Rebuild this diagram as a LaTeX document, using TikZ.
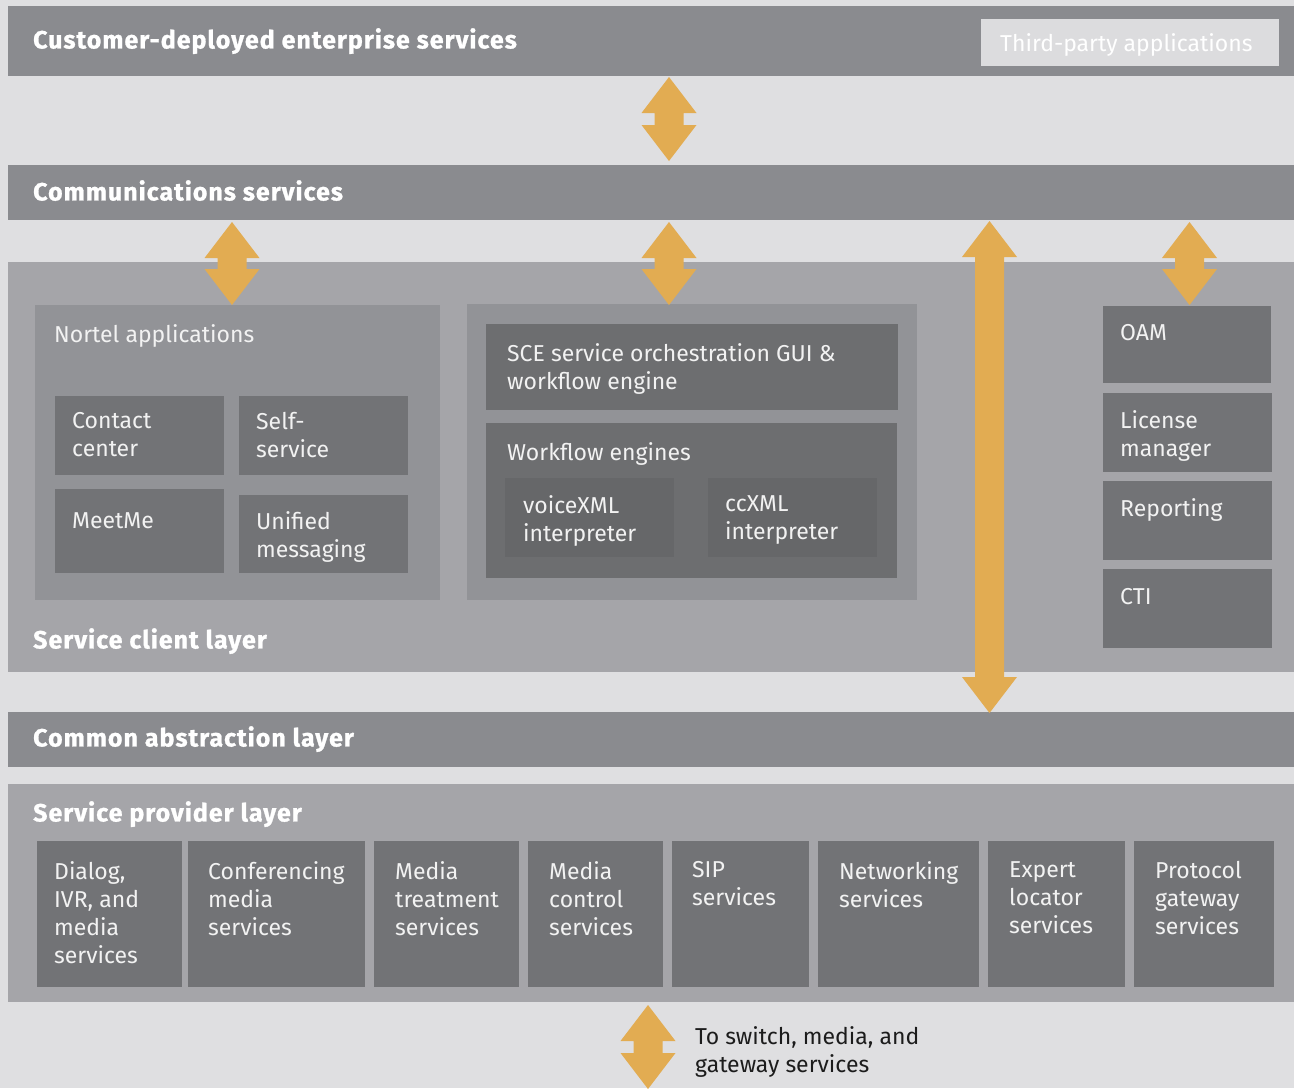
\documentclass[tikz,border=0pt]{standalone}
\usepackage{fontspec}
\setmainfont{Fira Sans}
\newfontfamily\headfont[LetterSpace=4,FakeBold=1]{Fira Sans Bold}
\usetikzlibrary{calc}
\definecolor{bgc}{HTML}{DFDFE1}
\definecolor{barc}{HTML}{8A8B8F}
\definecolor{layerc}{HTML}{A5A5A9}
\definecolor{groupc}{HTML}{929397}
\definecolor{tilec}{HTML}{727376}
\definecolor{engc}{HTML}{6D6E70}
\definecolor{innerc}{HTML}{666769}
\definecolor{thirdc}{HTML}{DCDCDE}
\definecolor{arrowc}{HTML}{E2AC52}
\definecolor{inkc}{HTML}{1C1C1C}
\begin{document}
\begin{tikzpicture}[x=1pt,y=-1pt]
\tikzstyle{area}=[anchor=north west,inner sep=0,outer sep=0];
\tikzstyle{bar}=[area,fill=barc];
\tikzstyle{layer}=[area,fill=layerc];
\tikzstyle{group}=[area,fill=groupc];
\tikzstyle{tile}=[area,fill=tilec];
\tikzstyle{eng}=[area,fill=engc];
\tikzstyle{inner}=[area,fill=innerc];
\tikzstyle{txt}=[anchor=north west,inner sep=0,align=left,text=white!95!black,
  font=\fontsize{23}{28}\selectfont,execute at begin node={\rule{0pt}{17pt}}];
\tikzstyle{head}=[txt,text=white,font=\fontsize{25}{28}\selectfont\headfont];
\tikzstyle{flow}=[fill=arrowc,to path={-- ($(\tikztostart)+(27.5,36)$) -- ($(\tikztostart)+(14.5,36)$)
  -- ($(\tikztotarget)+(14.5,-36)$) -- ($(\tikztotarget)+(27.5,-36)$) -- (\tikztotarget)
  -- ($(\tikztotarget)+(-27.5,-36)$) -- ($(\tikztotarget)+(-14.5,-36)$)
  -- ($(\tikztostart)+(-14.5,36)$) -- ($(\tikztostart)+(-27.5,36)$) -- cycle}];

\useasboundingbox[fill=bgc] (0,0) rectangle (1294,1088);

% top layers
\node [bar,minimum width=1286,minimum height=70] (cust) at (8,6) {};
\node [head] (custT) at (33,28) {Customer-deployed enterprise services};
\node [area,fill=thirdc,minimum width=298,minimum height=47] (third) at (981,19) {};
\node [txt,text=white] (thirdT) at (1000,33) {Third-party applications};

\node [bar,minimum width=1286,minimum height=55] (comm) at (8,165) {};
\node [head] (commT) at (33,180) {Communications services};

% service client layer
\node [layer,minimum width=1286,minimum height=410] (client) at (8,262) {};
\node [head] (clientT) at (33,628) {Service client layer};

\node [group,minimum width=405,minimum height=295] (nortel) at (35,305) {};
\node [txt] (nortelT) at (54,324) {Nortel applications};
\node [tile,minimum width=169,minimum height=79] (cc) at (55,396) {};
\node [txt] (ccT) at (72,412) {Contact\\center};
\node [tile,minimum width=169,minimum height=79] (ss) at (239,396) {};
\node [txt] (ssT) at (256,412) {Self-\\service};
\node [tile,minimum width=169,minimum height=84] (mm) at (55,489) {};
\node [txt] (mmT) at (72,511) {MeetMe};
\node [tile,minimum width=169,minimum height=78] (um) at (239,495) {};
\node [txt] (umT) at (256,511) {Unified\\messaging};

\node [group,minimum width=450,minimum height=296] (mid) at (467,304) {};
\node [eng,minimum width=412,minimum height=86] (sce) at (486,324) {};
\node [txt] (sceT) at (507,343) {SCE service orchestration GUI \&\\workflow engine};
\node [eng,minimum width=411,minimum height=155] (wf) at (486,423) {};
\node [txt] (wfT) at (507,442) {Workflow engines};
\node [inner,minimum width=169,minimum height=79] (vx) at (505,478) {};
\node [txt] (vxT) at (523,495) {voiceXML\\interpreter};
\node [inner,minimum width=169,minimum height=79] (cx) at (708,478) {};
\node [txt] (cxT) at (725,495) {ccXML\\interpreter};

\node [tile,minimum width=168,minimum height=77] (oam) at (1103,306) {};
\node [txt] (oamT) at (1120,323) {OAM};
\node [tile,minimum width=169,minimum height=79] (lic) at (1103,393) {};
\node [txt] (licT) at (1120,410) {License\\manager};
\node [tile,minimum width=169,minimum height=79] (rep) at (1103,481) {};
\node [txt] (repT) at (1120,498) {Reporting};
\node [tile,minimum width=169,minimum height=79] (cti) at (1103,569) {};
\node [txt] (ctiT) at (1120,587) {CTI};

% lower layers
\node [bar,minimum width=1286,minimum height=55] (common) at (8,712) {};
\node [head] (commonT) at (33,726) {Common abstraction layer};

\node [layer,minimum width=1286,minimum height=218] (provider) at (8,784) {};
\node [head] (providerT) at (33,801) {Service provider layer};

\node [tile,minimum width=145,minimum height=146] (dlg) at (37,841) {};
\node [txt] (dlgT) at (54,861) {Dialog,\\IVR, and\\media\\services};
\node [tile,minimum width=177,minimum height=146] (conf) at (188,841) {};
\node [txt] (confT) at (208,861) {Conferencing\\media\\services};
\node [tile,minimum width=145,minimum height=146] (mtr) at (374,841) {};
\node [txt] (mtrT) at (395,861) {Media\\treatment\\services};
\node [tile,minimum width=135,minimum height=146] (mctl) at (528,841) {};
\node [txt] (mctlT) at (549,861) {Media\\control\\services};
\node [tile,minimum width=137,minimum height=146] (sip) at (672,841) {};
\node [txt] (sipT) at (692,861) {SIP\\services};
\node [tile,minimum width=161,minimum height=146] (net) at (818,841) {};
\node [txt] (netT) at (839,861) {Networking\\services};
\node [tile,minimum width=137,minimum height=146] (exp) at (988,841) {};
\node [txt] (expT) at (1009,861) {Expert\\locator\\services};
\node [tile,minimum width=140,minimum height=146] (pgw) at (1134,841) {};
\node [txt] (pgwT) at (1155,861) {Protocol\\gateway\\services};

% arrows
\coordinate (a1t) at (669,77);    \coordinate (a1b) at (669,161);
\coordinate (a2t) at (232,222);   \coordinate (a2b) at (232,305);
\coordinate (a3t) at (669,222);   \coordinate (a3b) at (669,305);
\coordinate (a4t) at (989.5,221); \coordinate (a4b) at (989.5,713);
\coordinate (a5t) at (1189.5,222);\coordinate (a5b) at (1189.5,305);
\coordinate (a6t) at (648,1005);  \coordinate (a6b) at (648,1089);
\fill [flow] (a1t) to (a1b);
\fill [flow] (a2t) to (a2b);
\fill [flow] (a3t) to (a3b);
\fill [flow] (a4t) to (a4b);
\fill [flow] (a5t) to (a5b);
\fill [flow] (a6t) to (a6b);
\node [txt,text=inkc] (outT) at (695,1026) {To switch, media, and\\gateway services};
\end{tikzpicture}
\end{document}
